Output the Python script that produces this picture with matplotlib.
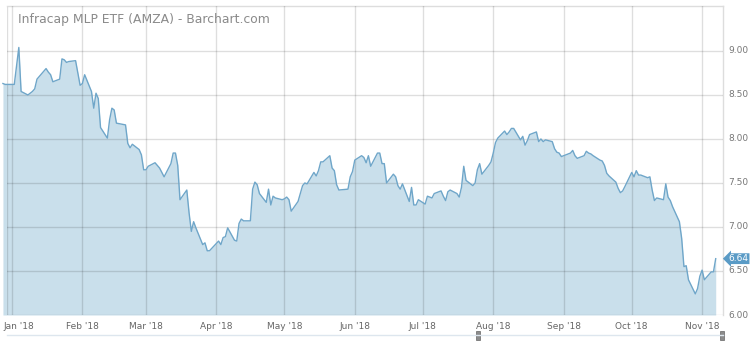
import matplotlib
matplotlib.use('Agg')
import matplotlib.pyplot as plt
import matplotlib.dates as mdates
import matplotlib.ticker as mticker
import matplotlib.transforms as mtransforms
from matplotlib.patches import Rectangle
from matplotlib.lines import Line2D
import pandas as pd

# daily closes, one per trading day from 2017-12-28
closes = [
    8.63, 8.62, 8.62, 8.83, 9.04, 8.54, 8.50, 8.52, 8.54, 8.57,
    8.68, 8.80, 8.76, 8.73, 8.65, 8.68, 8.91, 8.90, 8.87, 8.88,
    8.89, 8.75, 8.61, 8.63, 8.73, 8.54, 8.35, 8.52, 8.46, 8.13,
    8.01, 8.22, 8.35, 8.33, 8.18, 8.16, 7.95, 7.90, 7.94, 7.88,
    7.82, 7.65, 7.65, 7.69, 7.73, 7.70, 7.67, 7.62, 7.57, 7.72,
    7.84, 7.84, 7.70, 7.31, 7.42, 7.16, 6.95, 7.06, 6.99, 6.80,
    6.82, 6.73, 6.73, 6.84, 6.80, 6.88, 6.89, 6.99, 6.85, 6.84,
    7.04, 7.09, 7.07, 7.07, 7.43, 7.51, 7.48, 7.38, 7.28, 7.43,
    7.25, 7.35, 7.33, 7.31, 7.32, 7.34, 7.31, 7.18, 7.29, 7.38,
    7.47, 7.50, 7.49, 7.62, 7.58, 7.64, 7.74, 7.74, 7.81, 7.67,
    7.64, 7.48, 7.42, 7.43, 7.57, 7.63, 7.76, 7.81, 7.79, 7.73,
    7.81, 7.69, 7.84, 7.84, 7.72, 7.72, 7.50, 7.60, 7.57, 7.47,
    7.43, 7.49, 7.29, 7.45, 7.25, 7.25, 7.31, 7.26, 7.35, 7.33,
    7.38, 7.41, 7.35, 7.30, 7.40, 7.42, 7.38, 7.34, 7.45, 7.69,
    7.53, 7.47, 7.50, 7.65, 7.72, 7.60, 7.70, 7.74, 7.84, 7.96,
    8.01, 8.09, 8.05, 8.08, 8.12, 8.12, 7.99, 8.03, 7.93, 7.98,
    8.05, 8.08, 7.97, 8.00, 7.97, 7.99, 7.97, 7.89, 7.85, 7.84,
    7.80, 7.84, 7.87, 7.81, 7.78, 7.81, 7.86, 7.84, 7.83, 7.81,
    7.76, 7.75, 7.70, 7.61, 7.58, 7.51, 7.44, 7.39, 7.41, 7.46,
    7.62, 7.57, 7.64, 7.59, 7.59, 7.56, 7.57, 7.42, 7.30, 7.33,
    7.31, 7.49, 7.34, 7.30, 7.23, 7.06, 6.87, 6.55, 6.56, 6.40,
    6.24, 6.30, 6.44, 6.51, 6.40, 6.49, 6.49, 6.64,
]
market_holidays = ['2018-01-01', '2018-01-15', '2018-02-19', '2018-03-30',
                   '2018-05-28', '2018-07-04', '2018-09-03']
y_ticks = [6.0, 6.5, 7.0, 7.5, 8.0, 8.5, 9.0]
title = 'Infracap MLP ETF (AMZA) - Barchart.com'

dates = pd.bdate_range('2017-12-28', periods=len(closes), freq='C',
                       holidays=market_holidays)
last = closes[-1]

line_color = '#6fa6c9'
fill_color = '#c9dfeb'
grid_alpha = 0.13

W, H = 750, 346
fig = plt.figure(figsize=(W / 100, H / 100), dpi=100)
ax = fig.add_axes([7 / W, 31 / H, 716 / W, 309 / H])

ax.fill_between(dates, closes, 6.0, color=fill_color, lw=0, clip_on=False, zorder=1)
ax.plot(dates, closes, color=line_color, lw=1.0, clip_on=False, zorder=3)

ax.set_xlim(pd.Timestamp('2017-12-29 19:00'), pd.Timestamp('2018-11-10 05:00'))
ax.set_ylim(6.0, 9.511)

ax.xaxis.set_major_locator(mdates.MonthLocator())
ax.xaxis.set_major_formatter(mdates.DateFormatter("%b '%y"))
ax.set_yticks(y_ticks)
ax.yaxis.set_major_formatter(mticker.FormatStrFormatter('%.2f'))
ax.yaxis.tick_right()
ax.grid(True, color='black', alpha=grid_alpha, lw=1.0, zorder=2)
ax.set_axisbelow(False)
ax.tick_params(axis='both', length=0, labelsize=6.5)
ax.tick_params(axis='x', colors='#666666', pad=5)
ax.tick_params(axis='y', colors='#777777', pad=4)
for lbl in ax.get_yticklabels():
    lbl.set_verticalalignment('center')

# keep the first month label inside the plot, as the original does
first = ax.get_xticklabels()[0]
first.set_transform(first.get_transform() +
                    mtransforms.ScaledTranslation(7 / 100, 0, fig.dpi_scale_trans))

for side in ['left', 'bottom']:
    ax.spines[side].set_visible(False)
for side in ['top', 'right']:
    ax.spines[side].set_color('#dddddd')
    ax.spines[side].set_linewidth(1.0)
ax.axvline(ax.get_xlim()[0], color='black', alpha=grid_alpha, lw=1.0, zorder=2)

ax.text(11 / 716, 1 - 14 / 309, title, transform=ax.transAxes,
        fontsize=8.9, color='#8a8a8a', va='center', ha='left')

ax.annotate(f'{last:.2f}', xy=(1, last), xycoords=('axes fraction', 'data'),
            xytext=(4, 0), textcoords='offset points', fontsize=6.5,
            color='white', va='center', ha='left',
            bbox=dict(boxstyle='larrow,pad=0.1', fc='#5a9bc6', ec='none'))

# range navigator below the axis
fig.add_artist(Line2D([7 / W, 723 / W], [1 - 335 / H] * 2, color='#dde6ee',
                      lw=1.0, transform=fig.transFigure))
for hx in [478, 722]:
    fig.add_artist(Rectangle(((hx - 2) / W, 1 - 340 / H), 4 / W, 9 / H,
                             fc='#8c8c8c', ec='#666666', lw=0.5,
                             transform=fig.transFigure))

fig.savefig('out.png', dpi=100)
